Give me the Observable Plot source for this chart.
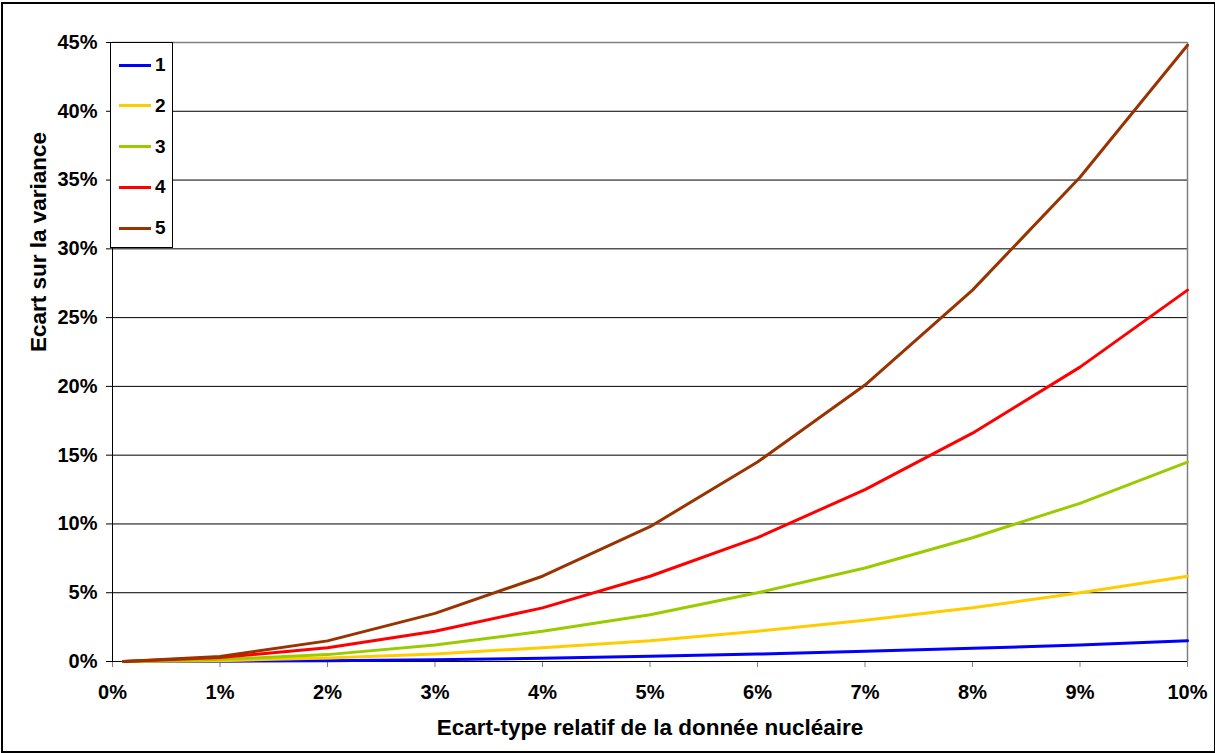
<!DOCTYPE html>
<html>
<head>
<meta charset="utf-8">
<script src="https://cdn.jsdelivr.net/npm/d3@7"></script>
<script src="https://cdn.jsdelivr.net/npm/@observablehq/plot@0.6"></script>
<style>
  html, body { margin: 0; padding: 0; background: #fff; }
  #wrap { position: relative; width: 1215px; height: 753px; font-family: "Liberation Sans", Arial, sans-serif; }
  #frame { position: absolute; left: 1px; top: 2px; width: 1211px; height: 747px; border: 2px solid #000; pointer-events: none; }
  #legend { position: absolute; left: 110px; top: 42px; width: 61px; height: 204px; border: 1px solid #000; background: #fff; }
  .item { position: absolute; left: 0; height: 20px; display: flex; align-items: center; }
  .item span.sw { display: inline-block; width: 32px; height: 3px; margin-left: 8px; margin-right: 4px; }
  .item span.lb { font-weight: bold; font-size: 19px; }
</style>
</head>
<body>
<div id="wrap"><div id="chart"></div><div id="legend"></div><div id="frame"></div></div>
<script>
const xValues = [0.1, 1, 2, 3, 4, 5, 6, 7, 8, 9, 10];
const seriesNames = ["1", "2", "3", "4", "5"];
const s1 = [0, 0.015, 0.06, 0.135, 0.24, 0.375, 0.54, 0.74, 0.96, 1.2, 1.5];
const s2 = [0, 0.06, 0.25, 0.55, 1.0, 1.5, 2.2, 3.0, 3.9, 5.0, 6.2];
const s3 = [0, 0.15, 0.5, 1.2, 2.2, 3.4, 5.0, 6.8, 9.0, 11.5, 14.5];
const s4 = [0, 0.29, 1.0, 2.2, 3.9, 6.2, 9.0, 12.5, 16.6, 21.4, 27.0];
const s5 = [0, 0.36, 1.5, 3.5, 6.2, 9.8, 14.5, 20.1, 27.0, 35.2, 44.8];
const seriesColors = ["#0000FF", "#FFCC00", "#99CC00", "#FF0000", "#993300"];
const xTicks = [0, 1, 2, 3, 4, 5, 6, 7, 8, 9, 10];
const yTicks = [0, 5, 10, 15, 20, 25, 30, 35, 40, 45];
const xTitle = "Ecart-type relatif de la donnée nucléaire";
const yTitle = "Ecart sur la variance";

const allSeries = [s1, s2, s3, s4, s5];
const data = [];
allSeries.forEach((vals, i) => vals.forEach((v, j) => data.push({x: xValues[j], y: v, s: seriesNames[i]})));

const font = "Liberation Sans, Arial, sans-serif";
const chart = Plot.plot({
  width: 1215, height: 753,
  marginLeft: 112, marginRight: 28, marginTop: 42, marginBottom: 92,
  style: {fontFamily: font, background: "transparent"},
  x: {domain: [0, 10]},
  y: {domain: [0, 45]},
  color: {domain: seriesNames, range: seriesColors},
  marks: [
    Plot.ruleY(yTicks.slice(1, -1), {stroke: "#000", strokeWidth: 1}),
    Plot.ruleY([45], {stroke: "#808080", strokeWidth: 1.5}),
    Plot.ruleX([10], {stroke: "#808080", strokeWidth: 1.5}),
    Plot.axisX({ticks: xTicks, tickFormat: d => d + "%", tickSize: 6, tickPadding: 17, stroke: "#808080", label: null, fontSize: 20, fontWeight: "bold", fill: "#000"}),
    Plot.axisY({ticks: yTicks, tickFormat: d => d + "%", tickSize: 6, tickPadding: 9, stroke: "#000", label: null, fontSize: 20, fontWeight: "bold", fill: "#000"}),
    Plot.ruleX([0], {stroke: "#000", strokeWidth: 1}),
    Plot.ruleY([0], {stroke: "#000", strokeWidth: 1}),
    Plot.line(data, {x: "x", y: "y", z: "s", stroke: "s", strokeWidth: 3}),
    Plot.text([xTitle], {frameAnchor: "bottom", dy: 73, fontSize: 22.5, fontWeight: "bold", fill: "#000"}),
    Plot.text([yTitle], {frameAnchor: "left", dx: -74, rotate: -90, fontSize: 22.5, fontWeight: "bold", fill: "#000"})
  ]
});
document.getElementById("chart").appendChild(chart);

const legend = document.getElementById("legend");
seriesNames.forEach((n, i) => {
  const it = document.createElement("div");
  it.className = "item";
  it.style.top = (12 + i * 40.8) + "px";
  it.innerHTML = `<span class="sw" style="background:${seriesColors[i]}"></span><span class="lb">${n}</span>`;
  legend.appendChild(it);
});
</script>
</body>
</html>
